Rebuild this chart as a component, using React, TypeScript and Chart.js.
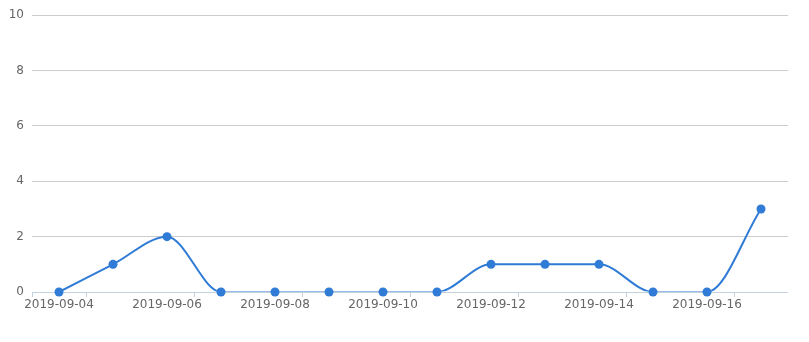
import React, { useEffect, useRef } from "react";
import { Chart, registerables } from "chart.js";

Chart.register(...registerables);

const dates = [
  "2019-09-04", "2019-09-05", "2019-09-06", "2019-09-07", "2019-09-08",
  "2019-09-09", "2019-09-10", "2019-09-11", "2019-09-12", "2019-09-13",
  "2019-09-14", "2019-09-15", "2019-09-16", "2019-09-17",
];
const counts = [0, 1, 2, 0, 0, 0, 0, 0, 1, 1, 1, 0, 0, 3];
const yTicks = [0, 2, 4, 6, 8, 10];

const FONT = "'DejaVu Sans', 'Noto Sans', sans-serif";
const BLUE = "#2f7bd6";
const AXIS = "#c3d1df";

// Bottom axis line, painted after the curve but before the markers.
const axisLinePlugin = {
  id: "axisLine",
  afterDatasetDraw(chart: any, args: any) {
    if (args.index !== 0) return;
    const { ctx, chartArea } = chart;
    ctx.save();
    ctx.strokeStyle = AXIS;
    ctx.lineWidth = 1;
    ctx.beginPath();
    ctx.moveTo(chartArea.left, Math.round(chartArea.bottom) + 0.5);
    ctx.lineTo(chartArea.right, Math.round(chartArea.bottom) + 0.5);
    ctx.stroke();
    ctx.restore();
  },
};

export default function App() {
  const ref = useRef<HTMLCanvasElement | null>(null);

  useEffect(() => {
    document.body.style.margin = "0";
    const canvas = ref.current;
    if (!canvas) return;
    const chart = new Chart(canvas, {
      type: "line",
      data: {
        labels: dates,
        datasets: [
          {
            data: counts,
            borderColor: BLUE,
            borderWidth: 2,
            pointRadius: 0,
            cubicInterpolationMode: "monotone",
            clip: { left: false, right: false, top: false, bottom: -0.5 },
            order: 2,
          },
          {
            data: counts,
            showLine: false,
            pointRadius: 4.5,
            pointBorderWidth: 0,
            pointBackgroundColor: BLUE,
            clip: false,
            order: 1,
          },
        ],
      },
      options: {
        responsive: false,
        animation: false,
        layout: { padding: { top: 14, right: 21, left: 0, bottom: 0 } },
        plugins: { legend: { display: false }, tooltip: { enabled: false } },
        scales: {
          x: {
            offset: true,
            border: { display: false },
            grid: {
              offset: true,
              drawOnChartArea: false,
              drawTicks: true,
              tickLength: 5,
              color: (ctx: any) =>
                ctx.index === 0 || ctx.index % 2 === 1 ? AXIS : "rgba(0,0,0,0)",
            },
            ticks: {
              autoSkip: false,
              maxRotation: 0,
              padding: 1,
              color: "#666",
              font: { family: FONT, size: 12 },
              callback: (_v: any, i: number) => (i % 2 === 0 ? dates[i] : ""),
            },
            afterFit: (s: any) => {
              s.height = 50;
            },
          },
          y: {
            min: 0,
            max: 10,
            afterBuildTicks: (s: any) => {
              s.ticks = yTicks.map((v) => ({ value: v }));
            },
            border: { display: false },
            grid: { color: "#cccccc", drawTicks: false, lineWidth: 1 },
            ticks: {
              padding: 8,
              color: "#666",
              font: { family: FONT, size: 12 },
            },
            afterFit: (s: any) => {
              s.width = 32;
            },
          },
        },
      },
      plugins: [axisLinePlugin],
    });
    return () => chart.destroy();
  }, []);

  return (
    <div style={{ width: 809, height: 342, background: "#fff" }}>
      <canvas ref={ref} width={809} height={342} />
    </div>
  );
}
